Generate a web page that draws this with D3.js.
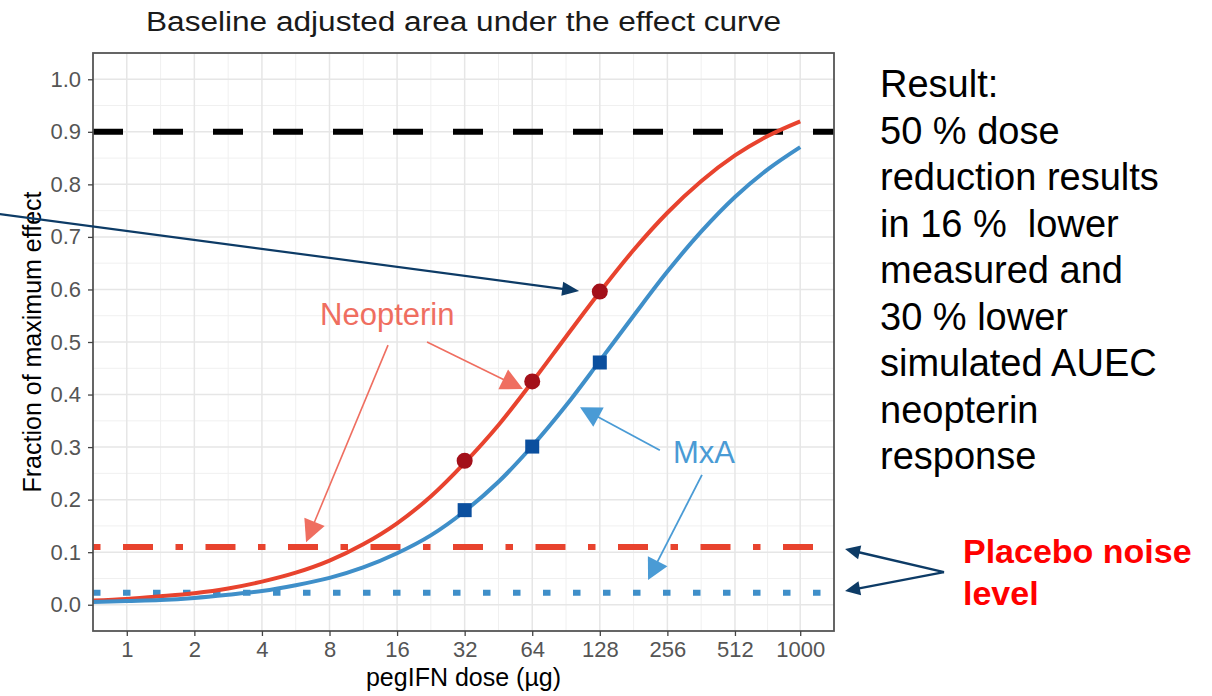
<!doctype html>
<html>

<head>
    <style>
        body {
            margin: 0;
            background: #fff;
        }

        svg text {
            font-family: "Liberation Sans", Arial, sans-serif;
            white-space: pre;
        }

        .grid-major {
            stroke: #e6e6e6;
            stroke-width: 1.5px;
        }

        .grid-minor {
            stroke: #f0f0f0;
            stroke-width: 1px;
        }

        .axis path {
            display: none;
        }

        .axis line {
            stroke: #444;
            stroke-width: 1.3px;
        }

        .axis text {
            font-size: 22px;
            fill: #555;
        }
    </style>
    <script src="https://d3js.org/d3.v7.min.js"></script>
</head>

<body>
    <script>
        // dose grid the curves were read at (ug)
        const doses = [0.707, 1, 1.41, 2, 2.83, 4, 5.66, 8, 11.3, 16, 22.6, 32, 45.3, 64, 90.5, 128, 181, 256, 362, 512, 724, 1000]
        const neopterinCurve = [0.008, 0.011, 0.016, 0.022, 0.031, 0.044, 0.061, 0.084, 0.115, 0.155, 0.206, 0.270, 0.342, 0.424, 0.510, 0.595, 0.675, 0.746, 0.806, 0.855, 0.893, 0.920]
        const mxaCurve = [0.005, 0.007, 0.009, 0.013, 0.019, 0.026, 0.037, 0.051, 0.071, 0.098, 0.132, 0.178, 0.234, 0.302, 0.379, 0.464, 0.550, 0.634, 0.710, 0.776, 0.830, 0.871]

        // measured doses
        const measuredDoses = [32, 64, 128]
        const neopterinPoints = [0.274, 0.425, 0.596]
        const mxaPoints = [0.180, 0.301, 0.461]

        // horizontal reference levels: 90 % effect, neopterin noise, MxA noise
        const refLevels = [0.9, 0.11, 0.023]

        const xTicks = [1, 2, 4, 8, 16, 32, 64, 128, 256, 512, 1000]
        const yTicks = [0, 0.1, 0.2, 0.3, 0.4, 0.5, 0.6, 0.7, 0.8, 0.9, 1.0]

        // annotation arrows, [dose, fraction] from -> to
        const arrowFrom = [[0.267, 0.744], [21.75, 0.500], [14.58, 0.494], [237, 0.294], [365, 0.247], [4372, 0.062], [4372, 0.062]]
        const arrowTo = [[103.5, 0.597], [58.2, 0.4105], [6.29, 0.119], [104.5, 0.376], [210, 0.047], [1584, 0.106], [1584, 0.026]]

        const resultLines = ["Result:", "50 % dose", "reduction results", "in 16 %  lower", "measured and", "30 % lower", "simulated AUEC", "neopterin", "response"]
        const placeboLines = ["Placebo noise", "level"]

        const red = "#e8432e", blue = "#3f8fc9"
        const navy = "#0d3b66", salmon = "#ef6e60", lightBlue = "#4a9bd5"

        const svg = d3.select("body").append("svg")
            .attr("width", 1212)
            .attr("height", 696)

        const panel = { left: 93, right: 834, top: 53, bottom: 631 }

        const x = d3.scaleLog().base(2)
            .domain([1 / Math.SQRT2, 1000 * Math.SQRT2])
            .range([panel.left, panel.right])
        const y = d3.scaleLinear()
            .domain([-0.05, 1.05])
            .range([panel.bottom, panel.top])

        //grid
        const grid = svg.append("g")
        const xMinor = d3.pairs(xTicks).map(p => Math.sqrt(p[0] * p[1]))
        const yMinor = d3.range(-0.05, 1.06, 0.1)
        grid.selectAll(".xm").data(xMinor).enter().append("line")
            .attr("class", "grid-minor")
            .attr("x1", d => x(d)).attr("x2", d => x(d))
            .attr("y1", panel.top).attr("y2", panel.bottom)
        grid.selectAll(".ym").data(yMinor).enter().append("line")
            .attr("class", "grid-minor")
            .attr("x1", panel.left).attr("x2", panel.right)
            .attr("y1", d => y(d)).attr("y2", d => y(d))
        grid.selectAll(".xg").data(xTicks).enter().append("line")
            .attr("class", "grid-major")
            .attr("x1", d => x(d)).attr("x2", d => x(d))
            .attr("y1", panel.top).attr("y2", panel.bottom)
        grid.selectAll(".yg").data(yTicks).enter().append("line")
            .attr("class", "grid-major")
            .attr("x1", panel.left).attr("x2", panel.right)
            .attr("y1", d => y(d)).attr("y2", d => y(d))

        //reference lines
        const refStyles = [
            { color: "#000", dash: "30,30" },
            { color: red, dash: "7.5,22.5,30,22.5" },
            { color: blue, dash: "7.5,22.5" }
        ]
        svg.append("g").selectAll("line")
            .data(refLevels)
            .enter()
            .append("line")
            .attr("x1", panel.left).attr("x2", panel.right)
            .attr("y1", d => y(d)).attr("y2", d => y(d))
            .attr("stroke", (d, i) => refStyles[i].color)
            .attr("stroke-width", 6)
            .attr("stroke-dasharray", (d, i) => refStyles[i].dash)

        //curves
        const line = d3.line()
            .x(d => x(d[0]))
            .y(d => y(d[1]))
            .curve(d3.curveMonotoneX)
        const curves = [
            { values: neopterinCurve, color: red },
            { values: mxaCurve, color: blue }
        ]
        svg.append("g").selectAll("path")
            .data(curves)
            .enter()
            .append("path")
            .attr("d", c => line(doses.map((d, i) => [d, c.values[i]])))
            .attr("fill", "none")
            .attr("stroke", c => c.color)
            .attr("stroke-width", 4)

        //measured points
        svg.append("g").selectAll("rect")
            .data(measuredDoses)
            .enter()
            .append("rect")
            .attr("x", d => x(d) - 7)
            .attr("y", (d, i) => y(mxaPoints[i]) - 7)
            .attr("width", 14)
            .attr("height", 14)
            .attr("fill", "#0b4f9e")
        svg.append("g").selectAll("circle")
            .data(measuredDoses)
            .enter()
            .append("circle")
            .attr("cx", d => x(d))
            .attr("cy", (d, i) => y(neopterinPoints[i]))
            .attr("r", 8)
            .attr("fill", "#a3101a")

        //panel border
        svg.append("rect")
            .attr("x", panel.left).attr("y", panel.top)
            .attr("width", panel.right - panel.left)
            .attr("height", panel.bottom - panel.top)
            .attr("fill", "none")
            .attr("stroke", "#555")
            .attr("stroke-width", 1.8)

        //axes
        svg.append("g")
            .attr("class", "axis")
            .attr("transform", `translate(0,${panel.bottom})`)
            .call(d3.axisBottom(x).tickValues(xTicks).tickFormat(d3.format("d")).tickSize(5).tickPadding(5))
        svg.append("g")
            .attr("class", "axis")
            .attr("transform", `translate(${panel.left},0)`)
            .call(d3.axisLeft(y).tickValues(yTicks).tickFormat(d3.format(".1f")).tickSize(5).tickPadding(7))

        svg.append("text")
            .attr("x", (panel.left + panel.right) / 2)
            .attr("y", 31)
            .attr("text-anchor", "middle")
            .attr("font-size", 27)
            .attr("textLength", 635)
            .attr("lengthAdjust", "spacingAndGlyphs")
            .attr("fill", "#1a1a1a")
            .text("Baseline adjusted area under the effect curve")
        svg.append("text")
            .attr("x", (panel.left + panel.right) / 2)
            .attr("y", 686)
            .attr("text-anchor", "middle")
            .attr("font-size", 25)
            .text("pegIFN dose (µg)")
        svg.append("text")
            .attr("transform", `translate(41,${(panel.top + panel.bottom) / 2}) rotate(-90)`)
            .attr("text-anchor", "middle")
            .attr("font-size", 25)
            .text("Fraction of maximum effect")

        //annotation arrows
        const arrowStyles = [
            { color: navy, w: 2.2, len: 17, half: 7 },
            { color: salmon, w: 1.6, len: 22, half: 11 },
            { color: salmon, w: 1.6, len: 22, half: 11 },
            { color: lightBlue, w: 1.8, len: 21, half: 11 },
            { color: lightBlue, w: 1.8, len: 21, half: 11 },
            { color: navy, w: 2.4, len: 15, half: 7 },
            { color: navy, w: 2.4, len: 15, half: 7 }
        ]
        const arrows = svg.append("g")
        arrowFrom.forEach((from, i) => {
            const s = arrowStyles[i]
            const x1 = x(from[0]), y1 = y(from[1])
            const x2 = x(arrowTo[i][0]), y2 = y(arrowTo[i][1])
            const dx = x2 - x1, dy = y2 - y1
            const l = Math.hypot(dx, dy)
            const ux = dx / l, uy = dy / l
            const bx = x2 - ux * s.len, by = y2 - uy * s.len
            arrows.append("line")
                .attr("x1", x1).attr("y1", y1)
                .attr("x2", bx + ux * 2).attr("y2", by + uy * 2)
                .attr("stroke", s.color)
                .attr("stroke-width", s.w)
            arrows.append("polygon")
                .attr("points", [[x2, y2], [bx - uy * s.half, by + ux * s.half], [bx + uy * s.half, by - ux * s.half]].join(" "))
                .attr("fill", s.color)
        })

        //series labels
        svg.append("text")
            .attr("x", x(7.26)).attr("y", y(0.532))
            .attr("font-family", "Lato, 'Open Sans', sans-serif")
            .attr("font-size", 31)
            .attr("fill", salmon)
            .text("Neopterin")
        svg.append("text")
            .attr("x", x(271)).attr("y", y(0.270))
            .attr("font-family", "Lato, 'Open Sans', sans-serif")
            .attr("font-size", 31)
            .attr("fill", lightBlue)
            .text("MxA")

        //side notes
        svg.append("g").selectAll("text")
            .data(resultLines)
            .enter()
            .append("text")
            .attr("x", 880)
            .attr("y", (d, i) => 97 + i * 46.5)
            .attr("font-size", 38)
            .attr("fill", "#000")
            .text(d => d)
        svg.append("g").selectAll("text")
            .data(placeboLines)
            .enter()
            .append("text")
            .attr("x", 963)
            .attr("y", (d, i) => 563 + i * 42)
            .attr("font-size", 34)
            .attr("font-weight", "bold")
            .attr("fill", "#ff0000")
            .text(d => d)
    </script>
</body>

</html>
